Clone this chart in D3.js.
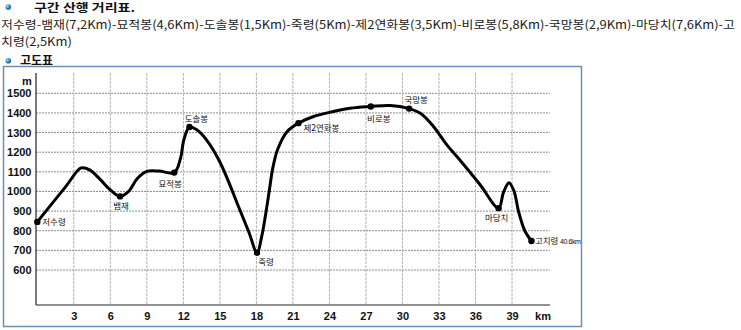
<!DOCTYPE html>
<html>
<head>
<meta charset="utf-8">
<script src="https://cdn.jsdelivr.net/npm/d3@7"></script>
<style>
  html, body { margin: 0; padding: 0; background: #fff; }
  svg { display: block; }
</style>
</head>
<body>
<svg id="chart" width="741" height="330"></svg>
<script>
// ---- text content ----
const sectionTitle = "구간 산행 거리표.";
const routeLines = [
  "저수령-뱀재(7,2Km)-묘적봉(4,6Km)-도솔봉(1,5Km)-죽령(5Km)-제2연화봉(3,5Km)-비로봉(5,8Km)-국망봉(2,9Km)-마당치(7,6Km)-고",
  "치령(2,5Km)"
];
const profileTitle = "고도표";

// ---- named stations along the ridge (km from start, elevation in m) ----
const stations    = ["저수령", "뱀재", "묘적봉", "도솔봉", "죽령", "제2연화봉", "비로봉", "국망봉", "마당치", "고치령"];
const stationKm   = [0, 6.8, 11.25, 12.5, 18.05, 21.45, 27.4, 30.55, 37.9, 40.6];
const stationElev = [845, 975, 1096, 1328, 688, 1348, 1433, 1422, 915, 748];
const endDistanceLabel = "40.6km";

// ---- elevation profile samples (km, m) ----
const profileKm = [
  0, 2.4, 3.6, 4.3, 5.2, 6.0, 6.8, 7.5, 8.2, 9.0, 10.0, 11.25,
  11.75, 12.05, 12.5, 13.1, 13.9, 15.0, 16.7, 17.4, 18.05,
  18.45, 18.75, 19.05, 19.35, 19.75, 20.5, 21.45,
  22.7, 24.1, 25.7, 27.4, 29.0, 30.55,
  31.5, 32.55, 33.65, 34.75, 36.35, 37.9,
  38.3, 38.75, 39.15, 39.55, 40.05, 40.6
];
const profileElev = [
  845, 1030, 1120, 1110, 1059, 1008, 975, 1000, 1065, 1102, 1104, 1096,
  1165, 1265, 1328, 1314, 1263, 1150, 897, 790, 688,
  775, 880, 1000, 1120, 1215, 1303, 1348,
  1382, 1404, 1424, 1433, 1438, 1422,
  1397, 1331, 1237, 1158, 1037, 915,
  995, 1045, 1005, 895, 800, 748
];

// ---- axis ticks ----
const elevTicks = [600, 700, 800, 900, 1000, 1100, 1200, 1300, 1400, 1500];
const kmTicks = [3, 6, 9, 12, 15, 18, 21, 24, 27, 30, 33, 36, 39];
const elevUnit = "m";
const kmUnit = "km";

// ---- layout ----
const svg = d3.select("#chart");
const plot = { left: 36, right: 550, top: 73, bottom: 305 };
const x = d3.scaleLinear().domain([0, 39]).range([37.3, 512]);
const y = d3.scaleLinear().domain([600, 1500]).range([270, 93.3]);

const hangul = "'Noto Sans CJK KR', 'Noto Sans', sans-serif";
const latin = "'Liberation Sans', Arial, sans-serif";

// bullet sphere gradient
const defs = svg.append("defs");
const grad = defs.append("radialGradient").attr("id", "bullet").attr("cx", "35%").attr("cy", "35%").attr("r", "70%");
grad.append("stop").attr("offset", "0%").attr("stop-color", "#bfe6f7");
grad.append("stop").attr("offset", "45%").attr("stop-color", "#3a97c8");
grad.append("stop").attr("offset", "100%").attr("stop-color", "#135a86");

// ---- header ----
svg.append("circle").attr("cx", 8.3).attr("cy", 7).attr("r", 2.8).attr("fill", "url(#bullet)");
svg.append("text")
  .attr("x", 34).attr("y", 12)
  .attr("font-family", hangul).attr("font-weight", 700).attr("font-size", 11)
  .attr("fill", "#111")
  .attr("textLength", 101).attr("lengthAdjust", "spacingAndGlyphs")
  .text(sectionTitle);

const route = svg.append("g").attr("font-family", hangul).attr("font-size", 11.5).attr("fill", "#222");
const line2 = route.append("text").attr("x", 1).attr("y", 28.8).text(routeLines[0]);
const line3 = route.append("text").attr("x", 1).attr("y", 46).text(routeLines[1]);
const routeWidth = 734;
const squeeze = routeWidth / line2.node().getComputedTextLength();
line2.attr("textLength", routeWidth).attr("lengthAdjust", "spacingAndGlyphs");
line3.attr("textLength", line3.node().getComputedTextLength() * squeeze).attr("lengthAdjust", "spacingAndGlyphs");

svg.append("circle").attr("cx", 8.3).attr("cy", 60.8).attr("r", 2.8).attr("fill", "url(#bullet)");
svg.append("text")
  .attr("x", 20).attr("y", 65)
  .attr("font-family", hangul).attr("font-weight", 700).attr("font-size", 12)
  .attr("fill", "#111")
  .text(profileTitle);

// ---- frame ----
svg.append("rect")
  .attr("x", 3.5).attr("y", 66.5).attr("width", 578).attr("height", 260)
  .attr("fill", "#fff").attr("stroke", "#6d8fb2").attr("stroke-width", 1.5);

// ---- grid ----
const grid = svg.append("g");
grid.selectAll("line.h").data(elevTicks).join("line")
  .attr("class", "h")
  .attr("x1", plot.left).attr("x2", plot.right)
  .attr("y1", d => y(d)).attr("y2", d => y(d))
  .attr("stroke", "#8c8c8c").attr("stroke-width", 1).attr("stroke-dasharray", "2,1");
grid.selectAll("line.v").data(kmTicks).join("line")
  .attr("class", "v")
  .attr("x1", d => x(d)).attr("x2", d => x(d))
  .attr("y1", plot.top).attr("y2", plot.bottom)
  .attr("stroke", "#b4b4b4").attr("stroke-width", 1).attr("stroke-dasharray", "3,1");

// ---- axes ----
const yAxis = svg.append("g")
  .attr("transform", `translate(${plot.left},0)`)
  .call(d3.axisLeft(y).tickValues(elevTicks).tickFormat(d3.format("d")).tickSize(0).tickPadding(4.5));
yAxis.select(".domain").remove();
yAxis.selectAll("text")
  .attr("font-family", latin).attr("font-weight", 700).attr("font-size", 11).attr("fill", "#111");

const xAxis = svg.append("g")
  .attr("transform", `translate(0,${plot.bottom})`)
  .call(d3.axisBottom(x).tickValues(kmTicks).tickFormat(d3.format("d")).tickSize(0).tickPadding(0));
xAxis.select(".domain").remove();
xAxis.selectAll("text")
  .attr("y", 11.5).attr("dy", "0.35em")
  .attr("font-family", latin).attr("font-weight", 700).attr("font-size", 11).attr("fill", "#111");

svg.append("line")
  .attr("x1", plot.left).attr("x2", plot.left).attr("y1", plot.top).attr("y2", plot.bottom)
  .attr("stroke", "#222").attr("stroke-width", 1.2);
svg.append("line")
  .attr("x1", plot.left).attr("x2", plot.right).attr("y1", plot.bottom).attr("y2", plot.bottom)
  .attr("stroke", "#222").attr("stroke-width", 1.2);

svg.append("text").attr("x", 27).attr("y", 80.7).attr("dy", "0.35em")
  .attr("text-anchor", "middle")
  .attr("font-family", latin).attr("font-weight", 700).attr("font-size", 11).attr("fill", "#111")
  .text(elevUnit);
svg.append("text").attr("x", 543).attr("y", plot.bottom + 11.5).attr("dy", "0.35em")
  .attr("text-anchor", "middle")
  .attr("font-family", latin).attr("font-weight", 700).attr("font-size", 11).attr("fill", "#111")
  .text(kmUnit);

// ---- elevation profile ----
const profile = profileKm.map((k, i) => ({ km: k, elev: profileElev[i] }));
const lineGen = d3.line()
  .x(d => x(d.km)).y(d => y(d.elev))
  .curve(d3.curveCatmullRom.alpha(0.5));
svg.append("path")
  .datum(profile)
  .attr("d", lineGen)
  .attr("fill", "none").attr("stroke", "#000")
  .attr("stroke-width", 3).attr("stroke-linejoin", "round").attr("stroke-linecap", "round");

// ---- station dots and names ----
const labelPlacement = [
  { dx: 5, dy: 0, anchor: "start" },     // 저수령
  { dx: 1, dy: 10, anchor: "middle" },   // 뱀재
  { dx: -4, dy: 11.5, anchor: "middle" },// 묘적봉
  { dx: 7, dy: -8, anchor: "middle" },   // 도솔봉
  { dx: 9, dy: 9, anchor: "middle" },    // 죽령
  { dx: 5, dy: 5, anchor: "start" },     // 제2연화봉
  { dx: 8, dy: 13, anchor: "middle" },   // 비로봉
  { dx: 7, dy: -9, anchor: "middle" },   // 국망봉
  { dx: -2, dy: 10, anchor: "middle" },  // 마당치
  { dx: 3.5, dy: 0, anchor: "start" }    // 고치령
];
const stationData = stations.map((name, i) => ({ name, km: stationKm[i], elev: stationElev[i], place: labelPlacement[i] }));

svg.append("g").selectAll("circle").data(stationData).join("circle")
  .attr("cx", d => x(d.km)).attr("cy", d => y(d.elev)).attr("r", 3.2).attr("fill", "#000");

const labels = svg.append("g").attr("font-family", hangul).attr("font-size", 8.5).attr("fill", "#111");
labels.selectAll("text").data(stationData).join("text")
  .attr("x", d => x(d.km) + d.place.dx)
  .attr("y", d => y(d.elev) + d.place.dy)
  .attr("dy", "0.35em")
  .attr("text-anchor", d => d.place.anchor)
  .each(function (d, i) {
    const t = d3.select(this);
    t.append("tspan").text(d.name);
    if (i === stations.length - 1) {
      t.append("tspan").attr("dx", 1.5).attr("font-family", latin).attr("font-size", 7)
        .attr("letter-spacing", -0.4).text(endDistanceLabel);
    }
  });
</script>
</body>
</html>
